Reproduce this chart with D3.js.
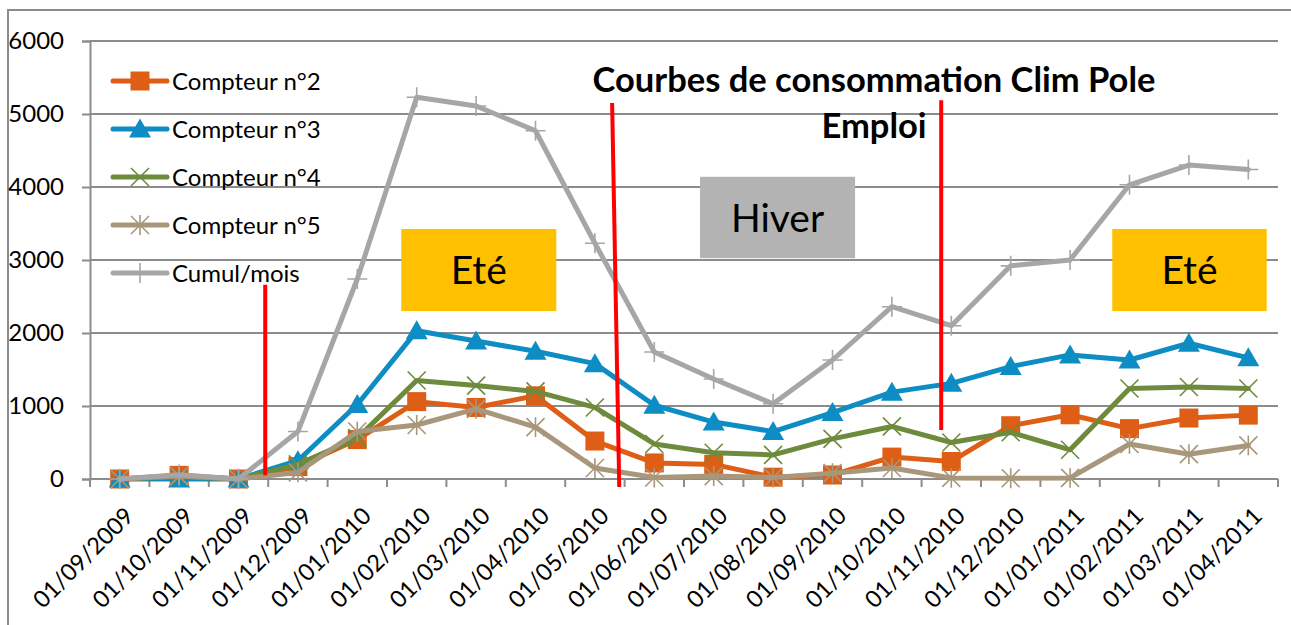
<!DOCTYPE html>
<html>
<head>
<meta charset="utf-8">
<script src="https://cdn.jsdelivr.net/npm/d3@7"></script>
<style>
  html, body { margin: 0; padding: 0; background: #fff; }
  svg { display: block; font-family: Lato, "Open Sans", sans-serif; }
</style>
</head>
<body>
<svg id="chart" width="1291" height="625"></svg>
<script>
// Monthly consumption per meter
const months = ["01/09/2009", "01/10/2009", "01/11/2009", "01/12/2009", "01/01/2010", "01/02/2010",
  "01/03/2010", "01/04/2010", "01/05/2010", "01/06/2010", "01/07/2010", "01/08/2010", "01/09/2010",
  "01/10/2010", "01/11/2010", "01/12/2010", "01/01/2011", "01/02/2011", "01/03/2011", "01/04/2011"];
const compteur2 = [0, 50, 0, 170, 540, 1060, 980, 1140, 520, 220, 200, 25, 55, 300, 240, 730, 880, 690, 835, 875];
const compteur3 = [0, 0, 0, 250, 1020, 2030, 1890, 1750, 1580, 1010, 780, 650, 910, 1190, 1310, 1540, 1700, 1630, 1860, 1660];
const compteur4 = [0, 30, 0, 200, 560, 1350, 1280, 1200, 980, 480, 360, 330, 550, 720, 500, 640, 400, 1240, 1260, 1240];
const compteur5 = [0, 40, 0, 90, 650, 740, 960, 710, 150, 20, 40, 20, 80, 150, 15, 10, 15, 480, 340, 460];
const cumulMois = [0, 60, 0, 650, 2740, 5230, 5110, 4770, 3230, 1740, 1370, 1030, 1630, 2360, 2100, 2920, 3000, 4030, 4300, 4240];
const yTicks = [0, 1000, 2000, 3000, 4000, 5000, 6000];

const seriesNames = ["Compteur n°2", "Compteur n°3", "Compteur n°4", "Compteur n°5", "Cumul/mois"];
const seriesValues = [compteur2, compteur3, compteur4, compteur5, cumulMois];
const seriesColors = ["#DE5E16", "#0E8DC4", "#6E8B3D", "#A8977A", "#A6A6A6"];
const seriesMarkers = ["square", "triangle", "x", "star", "plus"];

// Season boxes and separators, in category index units (centre of month i = i) and kWh
const seasonLabels = ["Eté", "Hiver", "Eté"];
const seasonFrom = [4.74, 9.77, 16.71];
const seasonTo = [7.35, 12.38, 19.31];
const seasonTop = [3425, 4140, 3425];
const seasonBottom = [2300, 3025, 2300];
const seasonColors = ["#FFC000", "#B3B3B3", "#FFC000"];
const separatorX0 = [2.45, 8.29, 13.83];
const separatorX1 = [2.45, 8.41, 13.83];
const separatorTop = [2660, 5150, 5190];
const separatorBottom = [50, -110, 670];

const titleLines = ["Courbes de consommation Clim Pole", "Emploi"];

const svg = d3.select("#chart");
const W = 1291, H = 625;
const plot = { left: 90, right: 1278, top: 41, bottom: 479 };

// chart area border
svg.append("rect").attr("x", 8).attr("y", 10).attr("width", W + 20).attr("height", H + 20)
  .attr("fill", "#fff").attr("stroke", "#8C8C8C").attr("stroke-width", 2);

const x = d3.scaleBand().domain(months).range([plot.left, plot.right]).padding(0);
const bw = x.bandwidth();
const xi = d3.scaleLinear().domain([-0.5, months.length - 0.5]).range([plot.left, plot.right]);
const y = d3.scaleLinear().domain([0, 6000]).range([plot.bottom, plot.top]);
const cx = (d, i) => x(months[i]) + bw / 2;

// horizontal gridlines
svg.append("g").selectAll("line").data(yTicks.filter(t => t > 0)).join("line")
  .attr("x1", plot.left).attr("x2", plot.right)
  .attr("y1", d => y(d)).attr("y2", d => y(d))
  .attr("stroke", "#8C8C8C").attr("stroke-width", 2);

// y axis
const yAxis = svg.append("g").attr("transform", `translate(${plot.left},0)`)
  .call(d3.axisLeft(y).tickValues(yTicks).tickSize(8).tickPadding(18).tickFormat(d3.format("d")));
yAxis.select(".domain").attr("stroke", "#8C8C8C").attr("stroke-width", 2);
yAxis.selectAll(".tick line").attr("stroke", "#8C8C8C").attr("stroke-width", 2);
yAxis.selectAll("text").attr("font-size", 24).attr("fill", "#000").attr("font-family", "Lato, sans-serif");

// x axis: ticks at month boundaries, rotated labels
const xAxis = svg.append("g").attr("transform", `translate(0,${plot.bottom})`)
  .call(d3.axisBottom(x).tickSize(0).tickFormat(d => d));
xAxis.select(".domain").remove();
xAxis.append("line").attr("x1", plot.left).attr("x2", plot.right)
  .attr("stroke", "#8C8C8C").attr("stroke-width", 2);
xAxis.selectAll(".boundary").data(d3.range(months.length + 1)).join("line")
  .attr("class", "boundary")
  .attr("x1", i => plot.left + i * bw).attr("x2", i => plot.left + i * bw)
  .attr("y1", 0).attr("y2", 8)
  .attr("stroke", "#8C8C8C").attr("stroke-width", 2);
xAxis.selectAll(".tick text")
  .attr("font-size", 23.5).attr("fill", "#000").attr("font-family", "Lato, sans-serif")
  .attr("text-anchor", "end")
  .attr("transform", "translate(3,26) rotate(-45)")
  .attr("x", 0).attr("y", 0).attr("dy", "0.75em");

// season boxes
const seasons = svg.append("g");
seasonLabels.forEach((lab, k) => {
  const x0 = xi(seasonFrom[k]), x1 = xi(seasonTo[k]);
  const y0 = y(seasonTop[k]), y1 = y(seasonBottom[k]);
  seasons.append("rect").attr("x", x0).attr("y", y0).attr("width", x1 - x0).attr("height", y1 - y0)
    .attr("fill", seasonColors[k]);
  seasons.append("text").attr("x", (x0 + x1) / 2).attr("y", (y0 + y1) / 2)
    .attr("dy", "0.36em").attr("text-anchor", "middle")
    .attr("font-size", 39).attr("fill", "#000").text(lab);
});

// markers
function markerPath(type, s) {
  const h = s / 2;
  switch (type) {
    case "square": return `M${-h},${-h}H${h}V${h}H${-h}Z`;
    case "triangle": return `M0,${-h * 1.05}L${h * 1.1},${h * 0.85}L${-h * 1.1},${h * 0.85}Z`;
    case "x": return `M${-h},${-h}L${h},${h}M${-h},${h}L${h},${-h}`;
    case "star": return `M${-h},${-h}L${h},${h}M${-h},${h}L${h},${-h}M0,${-h * 1.1}V${h * 1.1}`;
    case "plus": return `M${-h},0H${h}M0,${-h}V${h}`;
  }
}
const markerSize = { square: 19, triangle: 20, x: 18, star: 18, plus: 20 };
const filledMarker = { square: true, triangle: true, x: false, star: false, plus: false };

function drawMarker(g, type, color) {
  const filled = filledMarker[type];
  g.append("path").attr("d", markerPath(type, markerSize[type]))
    .attr("fill", filled ? color : "none")
    .attr("stroke", color)
    .attr("stroke-width", filled ? 0 : 1.6);
}

// series lines
const line = d3.line().x((d, i) => cx(d, i)).y(d => y(d));
seriesValues.forEach((vals, k) => {
  const g = svg.append("g");
  g.append("path").datum(vals).attr("d", line)
    .attr("fill", "none").attr("stroke", seriesColors[k]).attr("stroke-width", 5)
    .attr("stroke-linejoin", "round").attr("stroke-linecap", "round");
  vals.forEach((v, i) => {
    const m = g.append("g").attr("transform", `translate(${cx(v, i)},${y(v)})`);
    drawMarker(m, seriesMarkers[k], seriesColors[k]);
  });
});

// legend
const legend = svg.append("g");
const legendY = [81, 129, 177, 225, 273];
seriesNames.forEach((name, k) => {
  const g = legend.append("g").attr("transform", `translate(113,${legendY[k]})`);
  g.append("line").attr("x1", 0).attr("x2", 54).attr("stroke", seriesColors[k])
    .attr("stroke-width", 5).attr("stroke-linecap", "round");
  const m = g.append("g").attr("transform", "translate(27,0)");
  drawMarker(m, seriesMarkers[k], seriesColors[k]);
  g.append("text").attr("x", 59).attr("dy", "0.36em").attr("font-size", 24)
    .attr("fill", "#000").text(name);
});

// season separators
svg.append("g").selectAll("line").data(separatorTop).join("line")
  .attr("x1", (d, k) => xi(separatorX0[k])).attr("x2", (d, k) => xi(separatorX1[k]))
  .attr("y1", d => y(d)).attr("y2", (d, k) => y(separatorBottom[k]))
  .attr("stroke", "#FF0000").attr("stroke-width", 4);

// title
svg.append("g").selectAll("text").data(titleLines).join("text")
  .attr("x", 874).attr("y", (d, i) => 92 + i * 46)
  .attr("text-anchor", "middle").attr("font-size", 34.5).attr("font-weight", "bold")
  .attr("fill", "#000").text(d => d);
</script>
</body>
</html>
